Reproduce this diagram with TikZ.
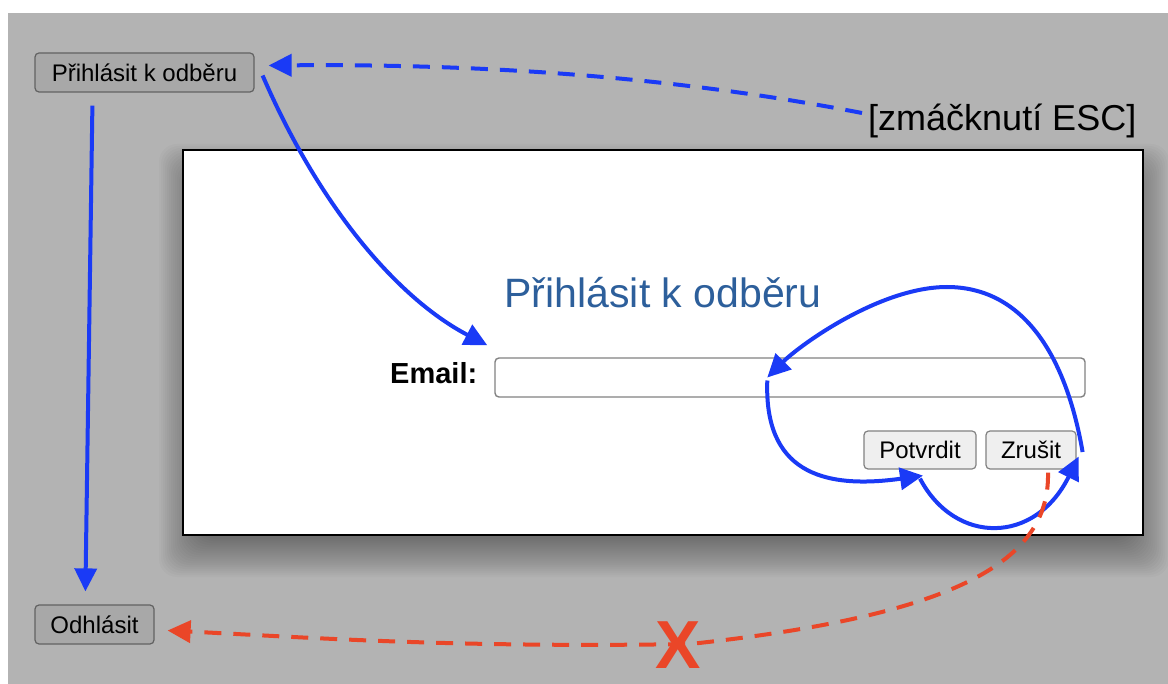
\documentclass[tikz,border=0pt]{standalone}
\usepackage{fontspec}
\setmainfont{Liberation Sans}
\usetikzlibrary{arrows.meta,calc}

\definecolor{bg}{RGB}{179,179,179}
\definecolor{btnfill}{RGB}{168,168,168}
\definecolor{btnline}{RGB}{98,98,98}
\definecolor{flow}{RGB}{26,58,246}
\definecolor{cancelred}{RGB}{234,70,40}
\definecolor{titleblue}{RGB}{45,95,155}
\definecolor{formline}{RGB}{130,130,130}
\definecolor{formfill}{RGB}{239,239,239}

\tikzset{
  pagebtn/.style={draw=btnline, line width=1.2pt, fill=btnfill, rounded corners=4pt,
    inner sep=0pt, font=\fontsize{24}{24}\selectfont},
  formbtn/.style={draw=formline, line width=1.2pt, fill=formfill, rounded corners=4pt,
    inner sep=0pt, font=\fontsize{24}{24}\selectfont},
  dialogbox/.style={draw=black, line width=1.8pt, fill=white, inner sep=0pt,
    minimum width=960pt, minimum height=385pt},
  shadowlayer/.style={fill=black, opacity=0.021, rounded corners=18pt},
  inputbox/.style={draw=formline, line width=1.4pt, fill=white, rounded corners=4pt,
    inner sep=0pt, minimum width=590pt, minimum height=39pt},
  tip/.style={-{Triangle[length=23pt,width=22pt]}},
  flowarrow/.style={draw=flow, line width=4pt, tip},
  escarrow/.style={flowarrow, dash pattern=on 17pt off 12pt},
  cancelarrow/.style={draw=cancelred, line width=4pt, tip, dash pattern=on 17pt off 12pt},
  label/.style={inner sep=0pt, anchor=base west},
}

\begin{document}
\begin{tikzpicture}[x=1pt,y=-1pt]
\useasboundingbox (0,0) rectangle (1168,684);
\fill[white] (0,0) rectangle (1168,684);
\fill[bg] (8,13) rectangle (1168,684);

% page buttons
\node[pagebtn, minimum width=219pt, minimum height=39pt] (subscribe) at (144.5,72.5) {Přihlásit k odběru};
\node[pagebtn, minimum width=119pt, minimum height=39pt] (unsubscribe) at (94.5,624.5) {Odhlásit};

% ESC label
\node[label, font=\fontsize{36}{36}\selectfont] (esc) at (868,131) {[zmáčknutí ESC]};

% soft shadow under the dialog, built from stacked translucent layers
\foreach \k in {0,...,19}{
  \pgfmathsetmacro\e{24-2*\k}
  \fill[shadowlayer] (183-\e,168-\e) rectangle (1145+\e,553+\e);
}

% dialog
\node[dialogbox] (dialog) at (663,342.5) {};
\node[inner sep=0pt, anchor=base, text=titleblue, font=\fontsize{41}{41}\selectfont] (title) at (663,308) {Přihlásit k odběru};
\node[label, font=\fontsize{29}{29}\selectfont\bfseries] (email) at (390,384) {Email:};
\node[inputbox] (input) at (790,377.5) {};
\node[formbtn, minimum width=112pt, minimum height=38pt] (confirm) at (920,450) {Potvrdit};
\node[formbtn, minimum width=90pt, minimum height=38pt] (cancelbtn) at (1031,450) {Zrušit};

% ESC returns to the page
\draw[escarrow] ($(esc.base west)+(-6,-18)$) .. controls (650,72) and (450,64) .. ($(subscribe.east)+(14,-7)$);

% page flow
\draw[flowarrow] ($(subscribe.south west)+(58,13)$) -- ($(unsubscribe.north west)+(51,-13)$);
\draw[flowarrow] ($(subscribe.east)+(8,3)$) .. controls +(58,134) and +(-88,-46) .. ($(input.north west)+(-7,-12)$);

% focus cycle inside the dialog
\draw[flowarrow] ($(cancelbtn.east)+(6,2)$) .. controls (1065,350) and (1020,287) .. (947,287)
  .. controls (880,287) and (800,345) .. ($(input.west)+(273,0)$);
\draw[flowarrow] ($(input.west)+(273,3)$) .. controls (764,470) and (820,490) .. ($(confirm.south)+(3,6)$);
\draw[flowarrow] ($(confirm.south)+(0,9)$) .. controls (955,545) and (1035,545) .. ($(cancelbtn.south east)+(2,-13)$);

% cancel does not lead to sign-out
\draw[cancelarrow] ($(cancelbtn.south)+(17,3)$) .. controls (1050,560) and (960,615) .. (690,644)
  .. controls (450,648) and (300,637) .. ($(unsubscribe.east)+(13,6)$);
\node[inner sep=0pt, text=cancelred, font=\fontsize{68}{68}\selectfont\bfseries] (cross) at (678,645) {X};
\end{tikzpicture}
\end{document}
